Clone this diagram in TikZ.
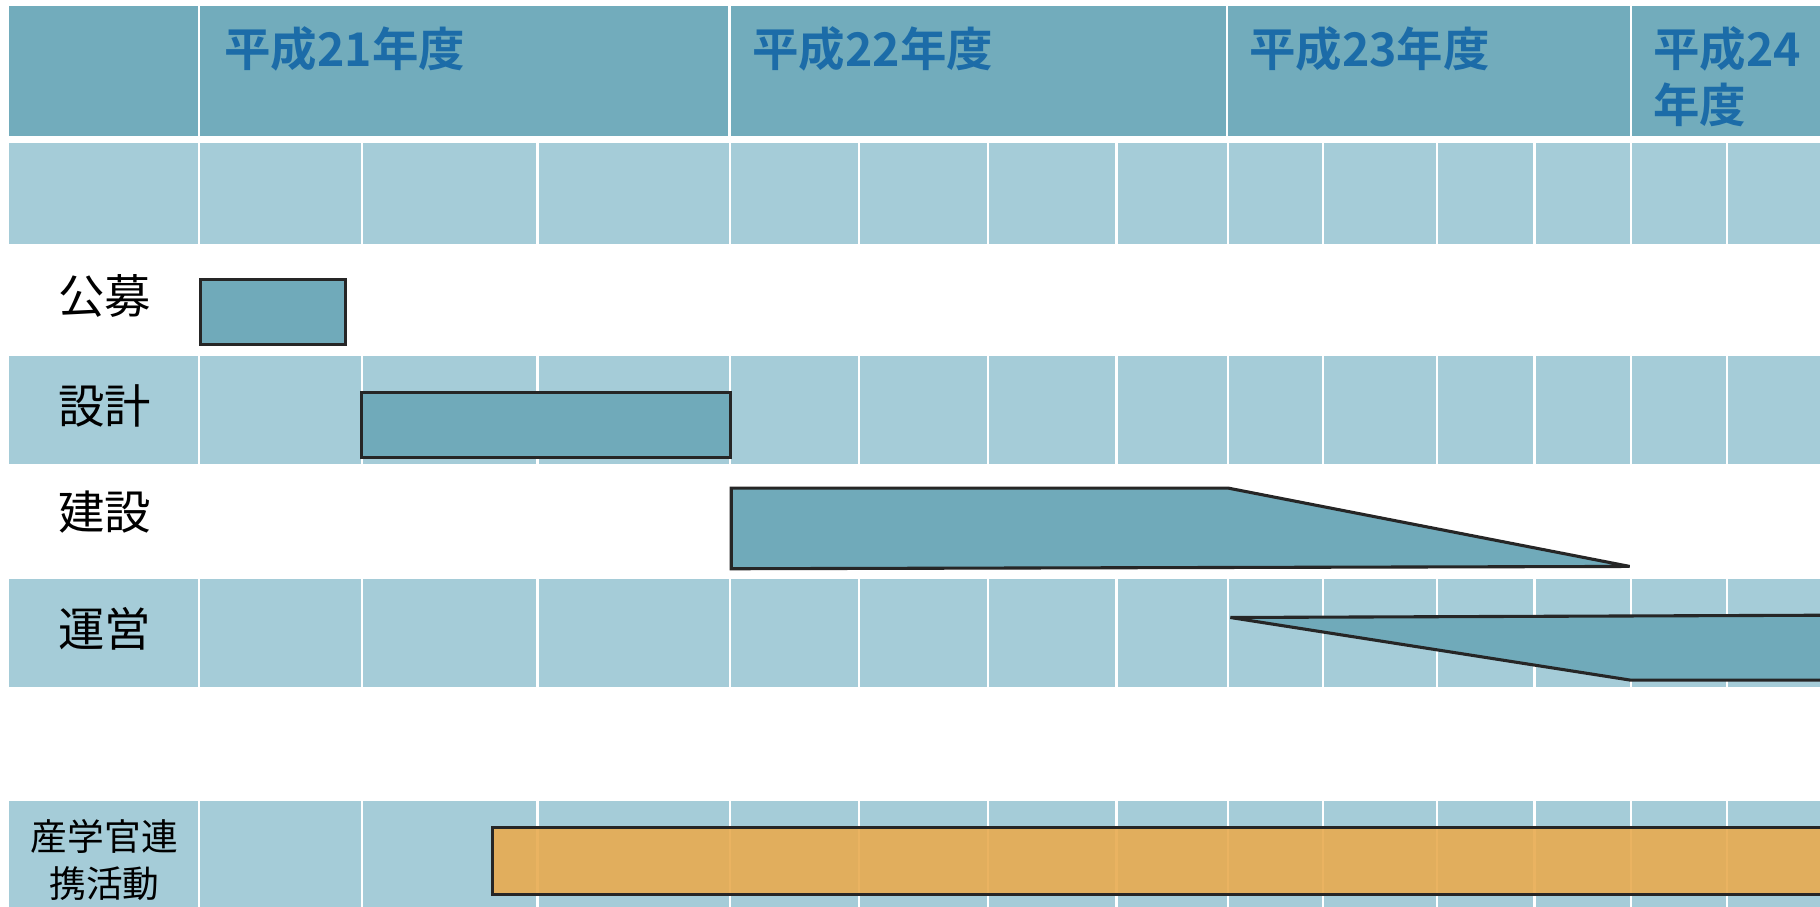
\documentclass[tikz,border=0pt]{standalone}
\usepackage{fontspec}
\newfontfamily\jp{Noto Sans CJK JP}
\newfontfamily\jpb{Noto Sans CJK JP Bold}
\definecolor{hdrbg}{HTML}{72ACBC}
\definecolor{rowbg}{HTML}{A5CCD8}
\definecolor{barfill}{HTML}{70AABA}
\definecolor{hdrtext}{HTML}{1C6CA8}
\definecolor{orangebar}{HTML}{E8AB50}
\begin{document}
\begin{tikzpicture}[x=0.6pt,y=-0.6pt,
  gridline/.style={white,line width=1.3pt},
  barbox/.style={draw=black!85,line width=1.6pt,fill=barfill},
  yeartext/.style={anchor=west,text=hdrtext,font=\jpb\fontsize{24pt}{28pt}\selectfont,inner sep=0pt},
  rowlabel/.style={font=\jp\fontsize{24pt}{28pt}\selectfont,inner sep=0pt},
  smalllabel/.style={font=\jp\fontsize{19pt}{24pt}\selectfont,inner sep=0pt,align=center}]
\useasboundingbox (0,0) rectangle (1568,781);
\fill[white] (0,0) rectangle (1568,781);
% header row
\fill[hdrbg] (8,5) rectangle (1575,117);
\foreach \x in {171.5,628.5,1057,1405}
  \draw[gridline] (\x,0) -- (\x,120);
% month row and bands
\foreach \ya/\yb in {123/210,307/400,499/592,690/790}{
  \fill[rowbg] (8,\ya) rectangle (1575,\yb);
  \foreach \x in {171.5,312,463,629,740,851,962,1058,1140,1238,1322,1405,1488}
    \draw[gridline] (\x,\ya-2) -- (\x,\yb+2);
}
% year labels
\node[yeartext] (y21) at (193,42) {平成21年度};
\node[yeartext] (y22) at (648,42) {平成22年度};
\node[yeartext] (y23) at (1076,42) {平成23年度};
\node[yeartext] (y24a) at (1424,42) {平成24};
\node[yeartext] (y24b) at (1424,90) {年度};
% row labels
\node[rowlabel] (lkobo) at (90,255) {公募};
\node[rowlabel] (lsekkei) at (90,350) {設計};
\node[rowlabel] (lkensetsu) at (90,441) {建設};
\node[rowlabel] (lunei) at (90,542) {運営};
\node[smalllabel] (lsangaku) at (90,741) {産学官連\\携活動};
% bars
\draw[barbox] (172.5,241) rectangle (298,297);
\draw[barbox] (311.5,338) rectangle (629.5,394);
\draw[barbox] (630,420.5) -- (1058,420.5) -- (1404,488) -- (630,490) -- cycle;
\draw[barbox] (1580,530) -- (1060,532) -- (1405,586) -- (1580,586);
\draw[draw=black!85,line width=1.6pt,fill=orangebar,fill opacity=0.9] (424,713) rectangle (1580,771);
\end{tikzpicture}
\end{document}
